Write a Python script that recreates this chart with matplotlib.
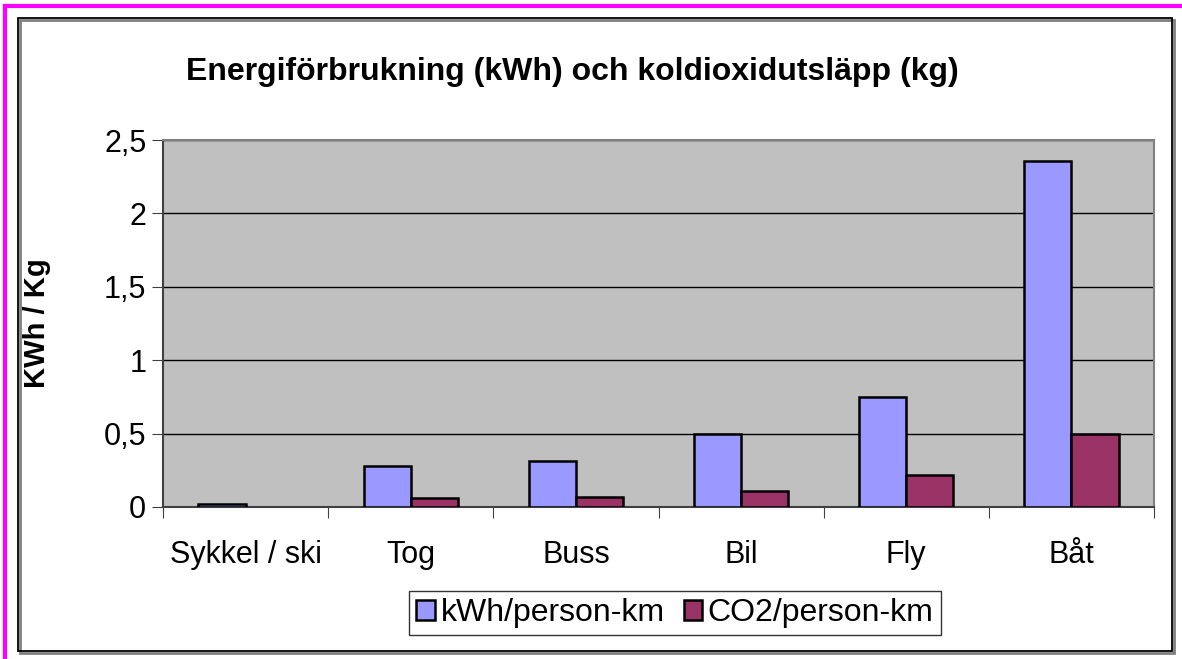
import matplotlib
matplotlib.use("Agg")
import matplotlib.pyplot as plt
import numpy as np
from matplotlib.patches import Rectangle, Patch
from matplotlib.lines import Line2D

# data
categories = ["Sykkel / ski", "Tog", "Buss", "Bil", "Fly", "Båt"]
kwh_per_pkm = [0.02, 0.28, 0.31, 0.50, 0.75, 2.36]
co2_per_pkm = [0.0, 0.06, 0.07, 0.11, 0.22, 0.50]
series_labels = ["kWh/person-km", "CO2/person-km"]
yticks = [0, 0.5, 1, 1.5, 2, 2.5]
ytick_labels = ["0", "0,5", "1", "1,5", "2", "2,5"]

BLUE = "#9999FF"
PLUM = "#993366"
PLOT_BG = "#C0C0C0"

plt.rcParams["font.family"] = ["Liberation Sans", "DejaVu Sans"]

W, H = 1182, 659
fig = plt.figure(figsize=(W / 100, H / 100), dpi=100)

# magenta frame (top and left) and chart border with a faint shadow
fig.add_artist(Line2D([5 / W, 1], [1 - 6 / H, 1 - 6 / H], color="#FF00FF", lw=3))
fig.add_artist(Line2D([5 / W, 5 / W], [0, 1 - 6 / H], color="#FF00FF", lw=3))
fig.add_artist(Rectangle((20 / W, 1 - 653 / H), (1174 - 20) / W, (653 - 20) / H,
                         fill=False, ec="#808080", lw=2))
fig.add_artist(Rectangle((18 / W, 1 - 651 / H), (1172 - 18) / W, (651 - 18) / H,
                         fill=False, ec="black", lw=1.3))

ax = fig.add_axes([163 / W, 1 - 507 / H, (1154 - 163) / W, (507 - 140) / H])
ax.set_facecolor(PLOT_BG)

x = np.arange(len(categories))
w = 1 / 3.5
# zero-height bars get no outline, like the original
ax.bar(x - w / 2, kwh_per_pkm, w, color=BLUE, edgecolor="black",
       lw=[1.8 if v > 0 else 0 for v in kwh_per_pkm], zorder=3)
ax.bar(x + w / 2, co2_per_pkm, w, color=PLUM, edgecolor="black",
       lw=[1.8 if v > 0 else 0 for v in co2_per_pkm], zorder=3)

ax.set_xlim(-0.5, len(categories) - 0.5)
ax.set_ylim(0, 2.5)
ax.set_yticks(yticks)
ax.set_yticklabels(ytick_labels, fontsize=22)
ax.yaxis.grid(True, color="black", lw=1)
ax.set_axisbelow(True)

ax.set_xticks(np.arange(len(categories) + 1) - 0.5)
ax.set_xticklabels([])
ax.set_xticks(x, minor=True)
ax.set_xticklabels(categories, minor=True, fontsize=22)
ax.tick_params(axis="x", which="minor", length=0, pad=24)
ax.tick_params(axis="x", which="major", length=8, color="#404040")
ax.tick_params(axis="y", length=8, color="#404040", pad=4)

for side in ("top", "right"):
    ax.spines[side].set_color("#808080")
    ax.spines[side].set_linewidth(1.5)
for side in ("left", "bottom"):
    ax.spines[side].set_color("#404040")
    ax.spines[side].set_linewidth(1.5)

ax.set_ylabel("KWh / Kg", fontsize=21, fontweight="bold")
ax.yaxis.set_label_coords(-0.113, 0.5)

fig.text(572 / W, 1 - 72 / H, "Energiförbrukning (kWh) och koldioxidutsläpp (kg)",
         ha="center", va="center", fontsize=23, fontweight="bold")

handles = [Patch(facecolor=BLUE, edgecolor="black", lw=1.8),
           Patch(facecolor=PLUM, edgecolor="black", lw=1.8)]
leg = fig.legend(handles, series_labels, loc="center",
                 bbox_to_anchor=(675 / W, 1 - 613 / H), ncol=2,
                 fontsize=23, frameon=True, fancybox=False, edgecolor="black",
                 handlelength=0.58, handleheight=0.58, handletextpad=0.17,
                 columnspacing=0.6, borderpad=0.22, borderaxespad=0)
leg.get_frame().set_linewidth(1)

fig.savefig("out.png", dpi=100)
